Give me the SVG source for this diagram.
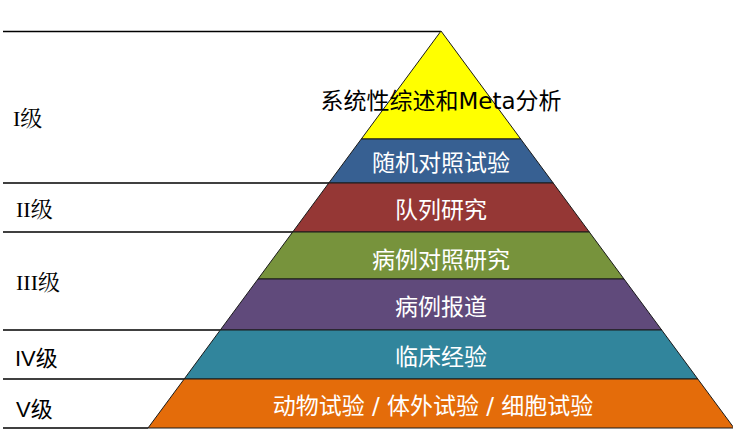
<svg xmlns="http://www.w3.org/2000/svg" width="733" height="431" viewBox="0 0 733 431">
<style>
.layer{stroke:#1a1a1a;stroke-width:1;stroke-linejoin:miter}
.t{font-family:"DejaVu Sans","Noto Sans CJK SC",sans-serif;font-size:23px;text-anchor:middle;fill:#ffffff}
.lv{font-family:"Liberation Serif","Noto Serif CJK SC","Noto Sans CJK SC",serif;font-size:22px;fill:#000}
.lvs{font-family:"Liberation Sans","Noto Sans CJK SC",sans-serif;font-size:22px;fill:#000}
.sep{stroke:#000;stroke-width:1.3;fill:none}
</style>
<rect width="733" height="431" fill="#ffffff"/>
<g id="separators">
<line class="sep" x1="3" y1="31.5" x2="441" y2="31.5"/>
<line class="sep" x1="3" y1="183" x2="329" y2="183"/>
<line class="sep" x1="3" y1="232" x2="293" y2="232"/>
<line class="sep" x1="3" y1="330" x2="220" y2="330"/>
<line class="sep" x1="3" y1="379" x2="184" y2="379"/>
<line class="sep" x1="3" y1="428" x2="148" y2="428"/>
</g>
<g id="layer-meta">
<polygon class="layer" fill="#FFFF00" points="441,31 520.7,139 361.3,139"/>
<text class="t" x="441" y="109" style="fill:#000">系统性综述和Meta分析</text>
</g>
<g id="layer-rct">
<polygon class="layer" fill="#376092" points="361.3,139 520.7,139 553.2,183 328.8,183"/>
<text class="t" x="441" y="171">随机对照试验</text>
</g>
<g id="layer-cohort">
<polygon class="layer" fill="#953735" points="328.8,183 553.2,183 589.3,232 292.7,232"/>
<text class="t" x="441" y="218">队列研究</text>
</g>
<g id="layer-casecontrol">
<polygon class="layer" fill="#77933C" points="292.7,232 589.3,232 624,279 258,279"/>
<text class="t" x="441" y="268">病例对照研究</text>
</g>
<g id="layer-casereport">
<polygon class="layer" fill="#604A7B" points="258,279 624,279 661.7,330 220.3,330"/>
<text class="t" x="441" y="315">病例报道</text>
</g>
<g id="layer-clinical">
<polygon class="layer" fill="#31859C" points="220.3,330 661.7,330 697.8,379 184.2,379"/>
<text class="t" x="441" y="365">临床经验</text>
</g>
<g id="layer-lab">
<polygon class="layer" fill="#E46C0A" points="184.2,379 697.8,379 734,428 148,428"/>
<text class="t" x="433" y="414">动物试验 / 体外试验 / 细胞试验</text>
</g>
<g id="levels">
<text class="lv" x="13" y="126">I级</text>
<text class="lv" x="16" y="217">II级</text>
<text class="lv" x="16" y="290">III级</text>
<text class="lvs" x="15" y="366">IV级</text>
<text class="lvs" x="16" y="417">V级</text>
</g>
</svg>
